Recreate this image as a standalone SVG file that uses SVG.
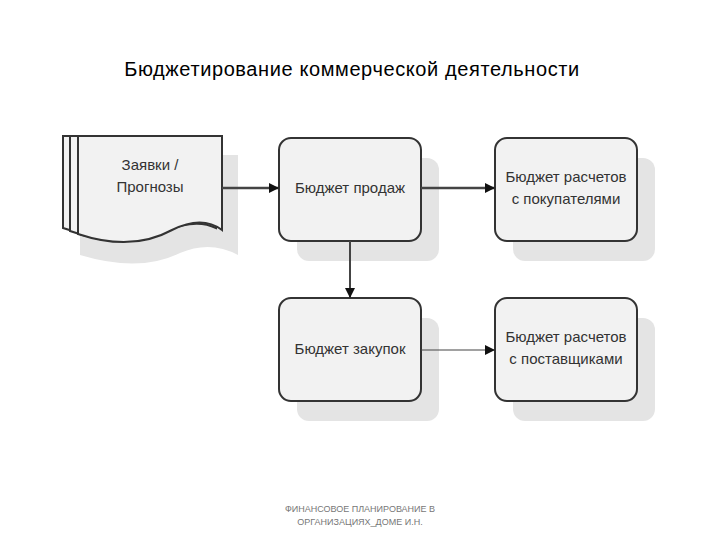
<svg xmlns="http://www.w3.org/2000/svg" width="720" height="540" viewBox="0 0 720 540">
<style>
.sh{fill:#e4e4e4}
.bx{fill:#f2f2f2;stroke:#333;stroke-width:2}
.t{font-family:"Liberation Sans",Arial,sans-serif;font-size:15px;fill:#333;text-anchor:middle}
.ln{stroke:#444;fill:none}
</style>
<defs><marker id="a" markerWidth="10" markerHeight="10" refX="9" refY="5" orient="auto" markerUnits="userSpaceOnUse"><path d="M0,0 L10,5 L0,10 Z" fill="#111"/></marker></defs>
<rect width="720" height="540" fill="#fff"/>
<text x="352" y="76" style="font-family:'Liberation Sans',Arial,sans-serif;font-size:20px;letter-spacing:0.6px;fill:#000" text-anchor="middle">Бюджетирование коммерческой деятельности</text>
<g id="doc">
<path class="sh" d="M80,155 H238 V255 Q210,240 180,253 Q140,273 80,255 Z"/>
<path class="bx" stroke-width="1.5" d="M63,136 H210 V225 Q190,215 160,228 Q120,248 63,228 Z"/>
<path class="bx" stroke-width="1.5" d="M70,136 H216 V228 Q196,218 166,231 Q126,251 70,231 Z"/>
<path class="bx" stroke-width="1.5" d="M78,136 H222 V230 Q202,215 172,230 Q132,252 78,234 Z"/>
<text class="t" x="150" y="170">Заявки /</text><text class="t" x="150" y="192">Прогнозы</text>
</g>
<g id="sales"><rect class="sh" x="297" y="158" width="142" height="103" rx="12"/><rect class="bx" x="279" y="138" width="142" height="103" rx="12"/><text class="t" x="350" y="193">Бюджет продаж</text></g>
<g id="cust"><rect class="sh" x="513" y="158" width="142" height="103" rx="12"/><rect class="bx" x="495" y="138" width="142" height="103" rx="12"/><text class="t" x="566" y="182">Бюджет расчетов</text><text class="t" x="566" y="204">с покупателями</text></g>
<g id="purch"><rect class="sh" x="297" y="318" width="142" height="103" rx="12"/><rect class="bx" x="279" y="298" width="142" height="103" rx="12"/><text class="t" x="350" y="354">Бюджет закупок</text></g>
<g id="supp"><rect class="sh" x="513" y="318" width="142" height="103" rx="12"/><rect class="bx" x="495" y="298" width="142" height="103" rx="12"/><text class="t" x="566" y="342">Бюджет расчетов</text><text class="t" x="566" y="364">с поставщиками</text></g>
<g id="connectors">
<line class="ln" stroke-width="2.5" x1="222" y1="188" x2="278" y2="188" marker-end="url(#a)"/>
<line class="ln" stroke-width="2.5" x1="421" y1="188" x2="494" y2="188" marker-end="url(#a)"/>
<line class="ln" stroke-width="2" x1="350" y1="241" x2="350" y2="297" marker-end="url(#a)"/>
<line class="ln" stroke-width="1.2" x1="421" y1="350" x2="494" y2="350" marker-end="url(#a)"/>
</g>
<text x="360" y="512" style="font-family:'Liberation Sans',Arial,sans-serif;font-size:9px;fill:#777" text-anchor="middle">ФИНАНСОВОЕ ПЛАНИРОВАНИЕ В</text>
<text x="360" y="525" style="font-family:'Liberation Sans',Arial,sans-serif;font-size:9px;fill:#777" text-anchor="middle">ОРГАНИЗАЦИЯХ_ДОМЕ И.Н.</text>
</svg>
